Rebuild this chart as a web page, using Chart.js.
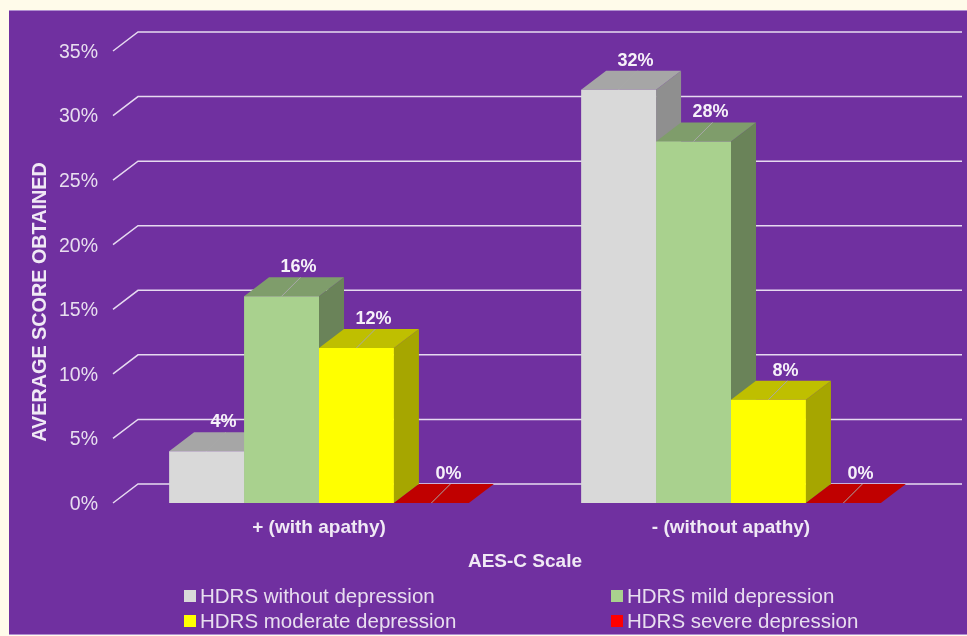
<!DOCTYPE html>
<html>
<head>
<meta charset="utf-8">
<title>AES-C Scale</title>
<style>
  html, body { margin: 0; padding: 0; background: #fffbea; overflow: hidden; }
  #panel { position: absolute; left: 9px; top: 10px; width: 958px; height: 625px; background: #7030a0; border-top: 1px solid #b08fd0; border-bottom: 1px solid #b08fd0; box-sizing: border-box; }
  canvas { position: absolute; left: 0; top: 0; }
</style>
<script src="https://cdn.jsdelivr.net/npm/chart.js@4"></script>
</head>
<body>
<div id="panel"></div>
<canvas id="chart" width="967" height="636"></canvas>
<script>
const categories = ['+ (with apathy)', '- (without apathy)'];
const seriesNames = ['HDRS without depression', 'HDRS mild depression', 'HDRS moderate depression', 'HDRS severe depression'];
const withoutDepression = [4, 32];
const mildDepression = [16, 28];
const moderateDepression = [12, 8];
const severeDepression = [0, 0];

const frontColors = ['#d9d9d9', '#a9d18e', '#ffff00', '#ff0000'];
const topColors = ['#a6a6a6', '#7f9d6b', '#bfbf00', '#c00000'];
const sideColors = ['#8f8f8f', '#6a8359', '#a6a600', '#a60000'];

const depthX = 25;
const depthY = -19;
const fontName = '"Liberation Sans", Arial, sans-serif';
const gridColor = '#e6daf0';
const textColor = '#e8deef';
const boldColor = '#f0e9f5';

function poly(ctx, pts, color) {
  ctx.fillStyle = color;
  ctx.beginPath();
  pts.forEach((p, i) => i ? ctx.lineTo(p[0], p[1]) : ctx.moveTo(p[0], p[1]));
  ctx.closePath();
  ctx.fill();
}

// back wall lines, then side and top faces left to right; Chart.js paints the fronts over them
const depthFaces = {
  id: 'depthFaces',
  beforeDatasetsDraw(chart) {
    const ctx = chart.ctx;
    const { left, right } = chart.chartArea;
    const yScale = chart.scales.y;
    ctx.save();
    ctx.strokeStyle = gridColor;
    ctx.lineWidth = 1.5;
    yScale.ticks.forEach(t => {
      const y = yScale.getPixelForValue(t.value);
      ctx.beginPath();
      ctx.moveTo(left, y);
      ctx.lineTo(left + depthX, y + depthY);
      ctx.lineTo(right + depthX, y + depthY);
      ctx.stroke();
    });
    categories.forEach((c, index) => {
      chart.data.datasets.forEach((ds, d) => {
        const bar = chart.getDatasetMeta(d).data[index];
        const half = bar.width / 2;
        const x0 = bar.x - half;
        const x1 = bar.x + half;
        const base = yScale.getPixelForValue(0);
        if (bar.y < base) {
          poly(ctx, [[x1, bar.y], [x1 + depthX, bar.y + depthY], [x1 + depthX, base + depthY], [x1, base]], sideColors[d]);
        }
        poly(ctx, [[x0, bar.y], [x1, bar.y], [x1 + depthX, bar.y + depthY], [x0 + depthX, bar.y + depthY]], topColors[d]);
        // leader from the front edge to the value label
        ctx.strokeStyle = '#a8a8a8';
        ctx.lineWidth = 1;
        ctx.beginPath();
        ctx.moveTo(bar.x, bar.y);
        ctx.lineTo(bar.x + 19, bar.y + depthY);
        ctx.stroke();
      });
    });
    ctx.restore();
  }
};

const valueLabels = {
  id: 'valueLabels',
  afterDatasetsDraw(chart) {
    const ctx = chart.ctx;
    ctx.save();
    ctx.font = 'bold 18px ' + fontName;
    ctx.fillStyle = '#f6f1f9';
    ctx.textAlign = 'center';
    ctx.textBaseline = 'middle';
    chart.data.datasets.forEach((ds, d) => {
      chart.getDatasetMeta(d).data.forEach((bar, i) => {
        ctx.fillText(ds.data[i] + '%', bar.x + 17, bar.y + depthY - 10);
      });
    });
    ctx.restore();
  }
};

// two-column legend and the rotated y title, which sits below the axis centre
const columnLegend = {
  id: 'columnLegend',
  afterDraw(chart) {
    const ctx = chart.ctx;
    const columns = [184, 611];
    const rows = [596, 621];
    ctx.save();
    ctx.font = '20.5px ' + fontName;
    ctx.textAlign = 'left';
    ctx.textBaseline = 'middle';
    chart.data.datasets.forEach((ds, d) => {
      const x = columns[d % 2];
      const y = rows[Math.floor(d / 2)];
      ctx.fillStyle = frontColors[d];
      ctx.fillRect(x, y - 6, 12, 12);
      ctx.fillStyle = textColor;
      ctx.fillText(ds.label, x + 16, y + 1);
    });
    ctx.translate(41, 302);
    ctx.rotate(-Math.PI / 2);
    ctx.font = 'bold 19.8px ' + fontName;
    ctx.textAlign = 'center';
    ctx.fillStyle = boldColor;
    ctx.fillText('AVERAGE SCORE OBTAINED', 0, 0);
    ctx.restore();
  }
};

const seriesValues = [withoutDepression, mildDepression, moderateDepression, severeDepression];

new Chart(document.getElementById('chart'), {
  type: 'bar',
  data: {
    labels: categories,
    datasets: seriesNames.map((name, i) => ({
      label: name,
      data: seriesValues[i],
      backgroundColor: frontColors[i],
      borderWidth: 0,
      categoryPercentage: 0.7275,
      barPercentage: 1
    }))
  },
  options: {
    responsive: false,
    animation: false,
    layout: { padding: { left: 0, top: 51, right: 30, bottom: 62 } },
    plugins: { legend: { display: false }, tooltip: { enabled: false } },
    scales: {
      x: {
        afterFit: s => { s.height = 71; },
        grid: { display: false, drawTicks: false },
        border: { display: false },
        ticks: {
          color: boldColor,
          padding: 13,
          font: { family: fontName, size: 19, weight: 'bold' }
        },
        title: {
          display: true,
          text: 'AES-C Scale',
          color: boldColor,
          font: { family: fontName, size: 19, weight: 'bold' },
          padding: { top: 0, bottom: 1 }
        }
      },
      y: {
        min: 0,
        max: 35,
        afterFit: s => { s.width = 113; },
        grid: { display: false, drawTicks: false },
        border: { display: false },
        ticks: {
          stepSize: 5,
          color: textColor,
          padding: 15,
          labelOffset: 1.5,
          font: { family: fontName, size: 19.5 },
          callback: v => v + '%'
        }
      }
    }
  },
  plugins: [depthFaces, valueLabels, columnLegend]
});
</script>
</body>
</html>
